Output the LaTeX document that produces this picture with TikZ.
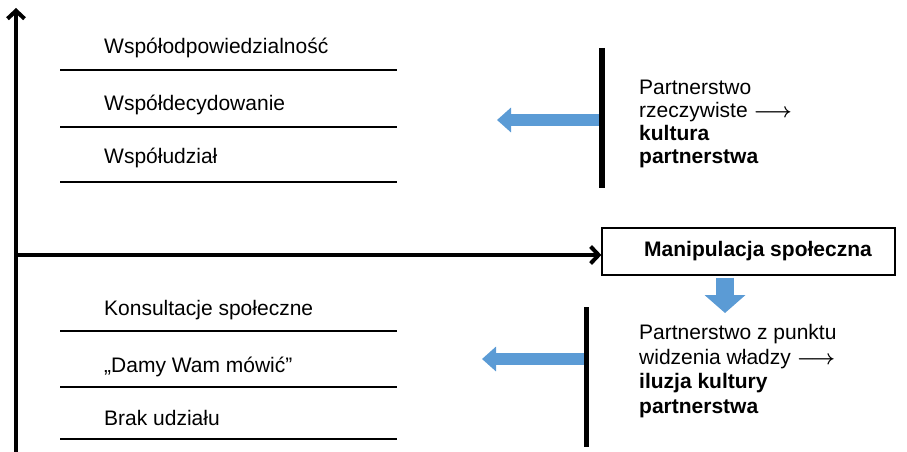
\documentclass[tikz,border=0pt]{standalone}
\usepackage{fontspec}
\setmainfont{Liberation Sans}
\usepackage{xcolor}
\usepackage{tikz}
\usetikzlibrary{arrows.meta,calc}
\definecolor{arrblue}{HTML}{5B9BD5}
\newcommand{\lvlfont}{\fontsize{21}{23}\selectfont}
\newcommand{\txtarrow}{{\boldmath$\longrightarrow$}}

\begin{document}
\begin{tikzpicture}[x=1pt,y=-1pt,
  axis/.style={line width=4pt,-{Straight Barb[length=8pt,width=17pt]}},
  rung/.style={line width=2pt},
  bar/.style={line width=6pt},
  lvl/.style={anchor=base west,inner sep=0pt,font=\lvlfont},
  note/.style={anchor=north west,inner sep=0pt,align=left,font=\lvlfont},
  barr/.style={draw=arrblue,line width=12pt,-{Triangle[length=14pt,width=24pt]}}]
\useasboundingbox (0,0) rectangle (907,452);
\node[draw,line width=1.3pt,minimum width=293pt,minimum height=47pt,inner sep=0pt,font=\lvlfont\bfseries] (manip) at (748.5,251.5) {\hspace*{19pt}Manipulacja społeczna};
\coordinate (o) at (16,452);
\coordinate (top) at (16,8);
\coordinate (mid) at (14,255);
\draw[axis] (o) -- (top);
\draw[axis] (mid) -- (mid -| manip.west);
\foreach \y/\txt [count=\k] in {54/Współodpowiedzialność,110/Współdecydowanie,163/Współudział,315/Konsultacje społeczne,372/{„Damy Wam mówić”},425/Brak udziału} {
  \node[lvl] (lvl\k) at (104,\y) {\txt};
}
\foreach \y in {70,127,182,331,387,439} { \draw[rung] (60,\y) -- (397,\y); }
\coordinate (b1t) at (602,48);
\coordinate (b1b) at (602,188);
\coordinate (b2t) at (586,307);
\coordinate (b2b) at (586,447);
\coordinate (a1) at (497,120);
\coordinate (a2) at (482,359);
\coordinate (d1) at (725,313);
\draw[barr] (b1t |- a1) -- (a1);
\draw[barr] (b2t |- a2) -- (a2);
\draw[barr,line width=18pt,-{Triangle[length=18pt,width=40pt]},shorten <=2pt] (manip.south -| d1) -- (d1);
\draw[bar] (b1t) -- (b1b);
\draw[bar,line width=5pt] (b2t) -- (b2b);
\node[note] (real) at (639,80) {Partnerstwo\\rzeczywiste \txtarrow\\\textbf{kultura}\\\textbf{partnerstwa}};
\node[note,font=\fontsize{21}{24.7}\selectfont] (illu) at (639,324) {Partnerstwo z punktu\\widzenia władzy \txtarrow\\\textbf{iluzja kultury}\\\textbf{partnerstwa}};
\end{tikzpicture}
\end{document}
